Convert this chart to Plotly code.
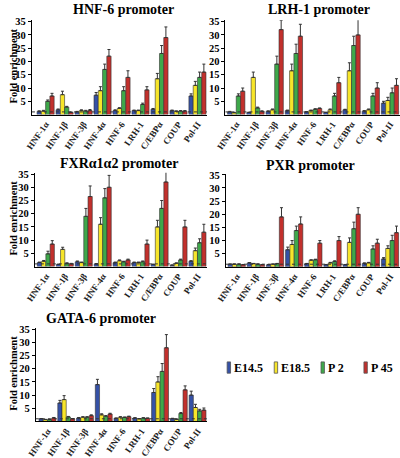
import plotly.graph_objects as go

categories = ["HNF-1α", "HNF-1β", "HNF-3β", "HNF-4α", "HNF-6", "LRH-1", "C/EBPα", "COUP", "Pol-II"]
series_names = ["E14.5", "E18.5", "P 2", "P 45"]
series_colors = ["#3551a6", "#f7e52a", "#3ea84a", "#c2302c"]
panel_titles = ["HNF-6 promoter", "LRH-1 promoter", "FXRα1α2 promoter", "PXR promoter", "GATA-6 promoter"]
y_ticks = [5, 10, 15, 20, 25, 30, 35]

# HNF-6 promoter
hnf6_e145 = [1.2, 1.8, 1.0, 7.3, 1.5, 1.5, 2.0, 1.5, 7.0]
hnf6_e185 = [1.3, 7.5, 1.5, 9.0, 2.3, 1.5, 13.5, 1.2, 11.0]
hnf6_p2 = [5.0, 2.8, 1.3, 17.0, 9.0, 3.8, 23.0, 1.3, 14.0]
hnf6_p45 = [7.0, 0.8, 1.5, 22.0, 14.0, 9.3, 29.0, 1.3, 16.0]
hnf6_e145_err = [0.2, 0.3, 0.2, 1.0, 0.3, 0.2, 0.3, 0.2, 0.8]
hnf6_e185_err = [0.3, 1.3, 0.3, 1.5, 0.3, 0.2, 2.0, 0.2, 1.5]
hnf6_p2_err = [0.5, 0.3, 0.3, 2.0, 1.5, 0.5, 3.0, 0.2, 2.0]
hnf6_p45_err = [1.0, 0.2, 0.4, 2.5, 2.5, 1.2, 4.0, 0.2, 3.0]

# LRH-1 promoter
lrh1_e145 = [1.0, 0.8, 1.2, 1.5, 1.0, 0.8, 1.8, 1.3, 4.3]
lrh1_e185 = [0.7, 14.0, 1.8, 16.5, 1.5, 1.8, 16.5, 1.8, 5.3]
lrh1_p2 = [7.0, 2.5, 19.0, 23.0, 2.0, 7.0, 26.0, 7.0, 8.2]
lrh1_p45 = [8.8, 1.2, 32.0, 29.5, 2.3, 12.0, 30.0, 10.0, 11.0]
lrh1_e145_err = [0.2, 0.1, 0.2, 0.2, 0.1, 0.1, 0.2, 0.2, 0.7]
lrh1_e185_err = [0.1, 2.0, 0.3, 2.5, 0.2, 0.3, 3.0, 0.3, 1.2]
lrh1_p2_err = [0.8, 0.3, 3.0, 3.5, 0.2, 1.0, 3.5, 1.0, 1.8]
lrh1_p45_err = [1.2, 0.2, 3.5, 4.5, 0.2, 2.0, 6.0, 2.0, 2.5]

# FXRa1a2 promoter
fxr_e145 = [1.5, 0.8, 1.8, 1.0, 1.5, 1.5, 0.8, 0.5, 2.0]
fxr_e185 = [2.0, 6.5, 1.5, 16.0, 2.2, 1.5, 15.0, 1.2, 6.0]
fxr_p2 = [4.8, 1.2, 19.0, 26.0, 1.8, 1.8, 22.0, 2.5, 9.0]
fxr_p45 = [8.5, 1.0, 26.5, 30.0, 2.5, 8.5, 32.0, 15.0, 13.0]
fxr_e145_err = [0.2, 0.1, 0.3, 0.1, 0.2, 0.2, 0.1, 0.1, 0.2]
fxr_e185_err = [0.3, 0.8, 0.2, 2.5, 0.3, 0.2, 2.5, 0.2, 1.0]
fxr_p2_err = [1.0, 0.2, 3.0, 3.5, 0.2, 0.3, 3.0, 0.3, 1.5]
fxr_p45_err = [1.3, 0.2, 4.0, 4.5, 0.3, 1.5, 4.0, 2.5, 3.0]

# PXR promoter
pxr_e145 = [1.0, 1.5, 0.8, 6.5, 1.2, 0.8, 0.8, 1.3, 3.0]
pxr_e185 = [1.0, 1.2, 1.0, 8.5, 2.5, 1.5, 9.3, 1.5, 7.0]
pxr_p2 = [1.0, 1.0, 1.2, 13.8, 2.7, 2.0, 14.5, 6.8, 10.0]
pxr_p45 = [0.8, 0.8, 19.0, 16.3, 9.0, 10.0, 20.0, 9.0, 13.0]
pxr_e145_err = [0.1, 0.1, 0.1, 1.0, 0.1, 0.1, 0.1, 0.2, 0.5]
pxr_e185_err = [0.1, 0.1, 0.1, 1.5, 0.2, 0.2, 1.7, 0.2, 1.0]
pxr_p2_err = [0.1, 0.1, 0.1, 1.7, 0.2, 0.3, 2.5, 1.2, 2.0]
pxr_p45_err = [0.1, 0.1, 3.5, 2.7, 1.0, 1.5, 2.5, 1.5, 2.5]

# GATA-6 promoter
gata_e145 = [1.0, 7.0, 1.3, 14.0, 1.2, 1.3, 11.0, 1.0, 10.0]
gata_e185 = [0.7, 8.3, 1.6, 2.5, 1.6, 1.0, 15.0, 0.8, 5.3]
gata_p2 = [0.7, 1.7, 1.6, 2.0, 1.5, 1.3, 19.0, 3.0, 4.0]
gata_p45 = [1.3, 1.0, 2.2, 2.8, 1.8, 1.2, 28.0, 12.0, 4.3]
gata_e145_err = [0.1, 1.0, 0.2, 2.0, 0.1, 0.1, 1.5, 0.2, 1.5]
gata_e185_err = [0.1, 1.5, 0.2, 0.4, 0.2, 0.1, 2.0, 0.1, 1.2]
gata_p2_err = [0.1, 0.2, 0.2, 0.2, 0.2, 0.1, 3.0, 0.4, 0.6]
gata_p45_err = [0.2, 0.1, 0.3, 0.3, 0.2, 0.1, 5.0, 1.5, 0.8]

panels = [
    ([hnf6_e145, hnf6_e185, hnf6_p2, hnf6_p45], [hnf6_e145_err, hnf6_e185_err, hnf6_p2_err, hnf6_p45_err]),
    ([lrh1_e145, lrh1_e185, lrh1_p2, lrh1_p45], [lrh1_e145_err, lrh1_e185_err, lrh1_p2_err, lrh1_p45_err]),
    ([fxr_e145, fxr_e185, fxr_p2, fxr_p45], [fxr_e145_err, fxr_e185_err, fxr_p2_err, fxr_p45_err]),
    ([pxr_e145, pxr_e185, pxr_p2, pxr_p45], [pxr_e145_err, pxr_e185_err, pxr_p2_err, pxr_p45_err]),
    ([gata_e145, gata_e185, gata_p2, gata_p45], [gata_e145_err, gata_e185_err, gata_p2_err, gata_p45_err]),
]

W, H = 400, 458
SERIF = "Liberation Serif, Times New Roman, serif"

# pixel layout of each panel: (x_left, x_right, y_top, y_bottom, x_range_start)
layout_px = [
    (22.5, 202, 16.7, 113.3, -0.72),
    (221, 399.6, 16.7, 113.3, -0.56),
    (25.5, 202, 172.9, 269.0, -0.58),
    (221.5, 399.6, 173.7, 269.3, -0.56),
    (26.5, 202, 332.0, 427.7, -0.62),
]
title_px = [(116, 6), (317, 6), (112, 163), (308, 165), (93, 322)]

fig = go.Figure()
for p, (vals, errs) in enumerate(panels):
    xa = "x" if p == 0 else f"x{p+1}"
    ya = "y" if p == 0 else f"y{p+1}"
    for s in range(4):
        fig.add_trace(go.Bar(
            x=categories, y=vals[s], name=series_names[s],
            marker=dict(color=series_colors[s], line=dict(color="#333333", width=0.6)),
            error_y=dict(type="data", array=errs[s], arrayminus=[0] * len(categories),
                         symmetric=False, color="#333333", thickness=1, width=1.5),
            xaxis=xa, yaxis=ya, showlegend=False,
        ))

layout = dict(
    width=W, height=H, margin=dict(l=0, r=0, t=0, b=0),
    paper_bgcolor="white", plot_bgcolor="white",
    barmode="group", bargap=0.1, bargroupgap=0.0,
    showlegend=False,
    font=dict(family=SERIF, color="black"),
)
shapes = []
annotations = []
for p, (xl, xr, yt, yb, x0) in enumerate(layout_px):
    key = "" if p == 0 else str(p + 1)
    ymax = 35.5
    layout["xaxis" + key] = dict(
        domain=[xl / W, xr / W], anchor="y" + key,
        range=[x0, 8.5], type="category",
        showline=True, linecolor="black", linewidth=1,
        ticks="", tickangle=-55, showgrid=False, zeroline=False,
        tickfont=dict(family=SERIF, size=9, color="#222222", weight="bold"),
    )
    layout["yaxis" + key] = dict(
        domain=[1 - yb / H, 1 - yt / H], anchor="x" + key,
        range=[0, ymax], tickvals=y_ticks,
        showline=True, linecolor="black", linewidth=1,
        ticks="outside", ticklen=3, tickcolor="black",
        showgrid=False, zeroline=False,
        tickfont=dict(family=SERIF, size=10.5, color="black", weight="bold"),
    )
    shapes.append(dict(type="line", xref=f"x{key} domain", yref="y" + key,
                       x0=0, x1=1, y0=1, y1=1,
                       line=dict(color="#333333", width=1, dash="dot")))
    tx, ty = title_px[p]
    annotations.append(dict(text=panel_titles[p], x=tx / W, y=1 - ty / H,
                            xref="paper", yref="paper", showarrow=False,
                            xanchor="center", yanchor="middle",
                            font=dict(family=SERIF, size=14, color="black", weight="bold")))
    if p in (0, 2, 4):
        annotations.append(dict(text="Fold enrichment", x=4 / W, y=1 - ((yt + yb) / 2 - 2) / H,
                                xref="paper", yref="paper", showarrow=False, textangle=-90,
                                xanchor="center", yanchor="middle", borderpad=0,
                                font=dict(family=SERIF, size=10.5, color="black", weight="bold")))

# legend (boxes + labels)
legend_x = [222.7, 271, 319, 363]
for s in range(4):
    bx = legend_x[s]
    shapes.append(dict(type="rect", xref="paper", yref="paper",
                       x0=bx / W, x1=(bx + 3.5) / W, y0=1 - 378.3 / H, y1=1 - 366.7 / H,
                       fillcolor=series_colors[s], line=dict(color="#555555", width=0.8)))
    annotations.append(dict(text=series_names[s], x=(bx + 5) / W, y=1 - 372.5 / H,
                            xref="paper", yref="paper", showarrow=False,
                            xanchor="left", yanchor="middle",
                            font=dict(family=SERIF, size=12, color="black", weight="bold")))

layout["shapes"] = shapes
layout["annotations"] = annotations
fig.update_layout(**layout)
fig.write_html("out.html",
               config={"displayModeBar": False},
               post_script="document.body.style.margin='0';document.body.style.padding='0';"
                           "document.body.style.overflow='hidden';"
                           "document.documentElement.style.overflow='hidden';")
